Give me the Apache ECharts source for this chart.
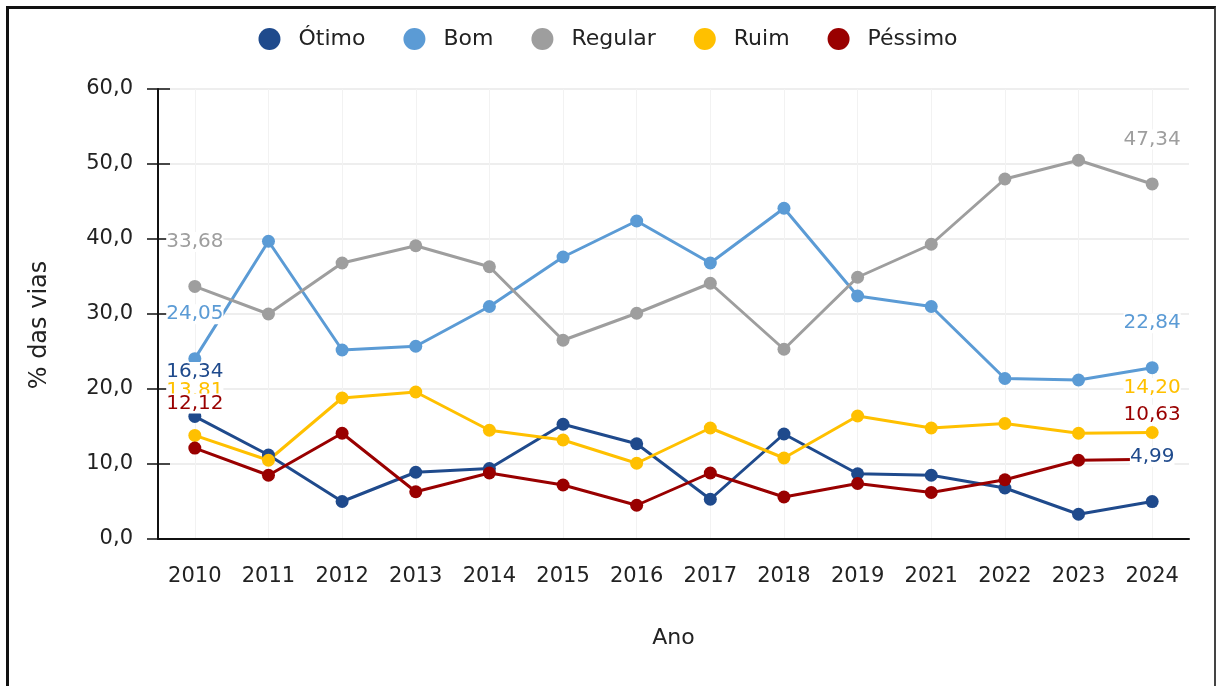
<!DOCTYPE html>
<html>
<head>
<meta charset="utf-8">
<script src="https://cdn.jsdelivr.net/npm/echarts@6/dist/echarts.min.js"></script>
<style>
  html, body { margin: 0; padding: 0; background: #fff; }
  #frame { position: absolute; left: 6px; top: 6px; width: 1205px; height: 700px;
           border-left: 3px solid #111; border-top: 3px solid #111; border-right: 2px solid #444; }
  #chart { position: absolute; left: 0; top: 0; width: 1216px; height: 686px; }
</style>
</head>
<body>
<div id="frame"></div>
<div id="chart"></div>
<script>
// categorias e valores (% das vias)
var anos = ['2010','2011','2012','2013','2014','2015','2016','2017','2018','2019','2021','2022','2023','2024'];
var otimo   = [16.34, 11.2, 5.0, 8.9, 9.4, 15.3, 12.7, 5.3, 14.0, 8.7, 8.5, 6.8, 3.3, 4.99];
var bom     = [24.05, 39.7, 25.2, 25.7, 31.0, 37.6, 42.4, 36.8, 44.1, 32.4, 31.0, 21.4, 21.2, 22.84];
var regular = [33.68, 30.0, 36.8, 39.1, 36.3, 26.5, 30.1, 34.1, 25.3, 34.9, 39.3, 48.0, 50.5, 47.34];
var ruim    = [13.81, 10.5, 18.8, 19.6, 14.5, 13.2, 10.1, 14.8, 10.8, 16.4, 14.8, 15.4, 14.1, 14.20];
var pessimo = [12.12, 8.5, 14.1, 6.3, 8.8, 7.2, 4.5, 8.8, 5.6, 7.4, 6.2, 7.9, 10.5, 10.63];
var yTicks = [0, 10, 20, 30, 40, 50, 60];

var nomes = ['Ótimo', 'Bom', 'Regular', 'Ruim', 'Péssimo'];
var cores = ['#1f4a8c', '#5b9bd5', '#9e9e9e', '#ffc000', '#990000'];
var valores = [otimo, bom, regular, ruim, pessimo];

var fonte = 'DejaVu Sans';

function fmt(v, d) { return v.toFixed(d).replace('.', ','); }

var chart = echarts.init(document.getElementById('chart'));

var series = nomes.map(function (nome, s) {
  var vals = valores[s];
  return {
    name: nome,
    type: 'line',
    xAxisIndex: 0,
    yAxisIndex: 0,
    symbol: 'circle',
    symbolSize: 13,
    lineStyle: { width: 3, color: cores[s] },
    itemStyle: { color: cores[s] },
    label: {
      position: 'top',
      distance: 28,
      color: cores[s],
      fontFamily: fonte,
      fontSize: 20,
      backgroundColor: '#fff',
      formatter: function (p) { return fmt(p.value, 2); }
    },
    data: vals.map(function (v, i) {
      return { value: v, label: { show: i === 0 || i === vals.length - 1 } };
    })
  };
});

var option = {
  animation: false,
  textStyle: { fontFamily: fonte },
  legend: {
    top: 23,
    left: 'center',
    icon: 'circle',
    itemWidth: 22,
    itemHeight: 22,
    itemGap: 38,
    textStyle: { fontSize: 22, color: '#222', padding: [0, 0, 0, 13] },
    data: nomes
  },
  grid: { left: 158, right: 27, top: 89, bottom: 147 },
  xAxis: [{
    type: 'category',
    data: anos,
    name: 'Ano',
    nameLocation: 'middle',
    nameGap: 88,
    nameTextStyle: { fontSize: 22, color: '#222' },
    axisLine: { lineStyle: { color: '#111', width: 2 } },
    axisTick: { alignWithLabel: true, length: 12, lineStyle: { color: '#111', width: 1.5 } },
    axisLabel: { fontSize: 21, color: '#222', margin: 27 },
    splitLine: { show: true, alignWithLabel: true, lineStyle: { color: '#f2f2f2', width: 1 } }
  }, {
    type: 'category',
    data: anos,
    position: 'bottom',
    axisLine: { show: false },
    axisTick: { inside: true, alignWithLabel: true, length: 12, lineStyle: { color: '#111', width: 1.5 } },
    axisLabel: { show: false },
    splitLine: { show: false }
  }],
  yAxis: [{
    type: 'value',
    min: yTicks[0],
    max: yTicks[yTicks.length - 1],
    interval: 10,
    name: '% das vias',
    nameLocation: 'middle',
    nameGap: 106,
    nameRotate: 90,
    nameTextStyle: { fontSize: 24, color: '#222', padding: [0, 22, 0, 0] },
    axisLine: { show: true, lineStyle: { color: '#111', width: 2 } },
    axisTick: { show: true, length: 11, lineStyle: { color: '#111', width: 1.5 } },
    axisLabel: { fontSize: 21, color: '#222', margin: 25, formatter: function (v) { return fmt(v, 1); } },
    splitLine: { show: true, lineStyle: { color: '#e9e9e9', width: 1.5 } }
  }, {
    type: 'value',
    min: yTicks[0],
    max: yTicks[yTicks.length - 1],
    interval: 10,
    position: 'left',
    axisLine: { show: false },
    axisTick: { show: true, inside: true, length: 12, lineStyle: { color: '#111', width: 1.5 } },
    axisLabel: { show: false },
    splitLine: { show: false }
  }],
  series: series
};

chart.setOption(option);
</script>
</body>
</html>
